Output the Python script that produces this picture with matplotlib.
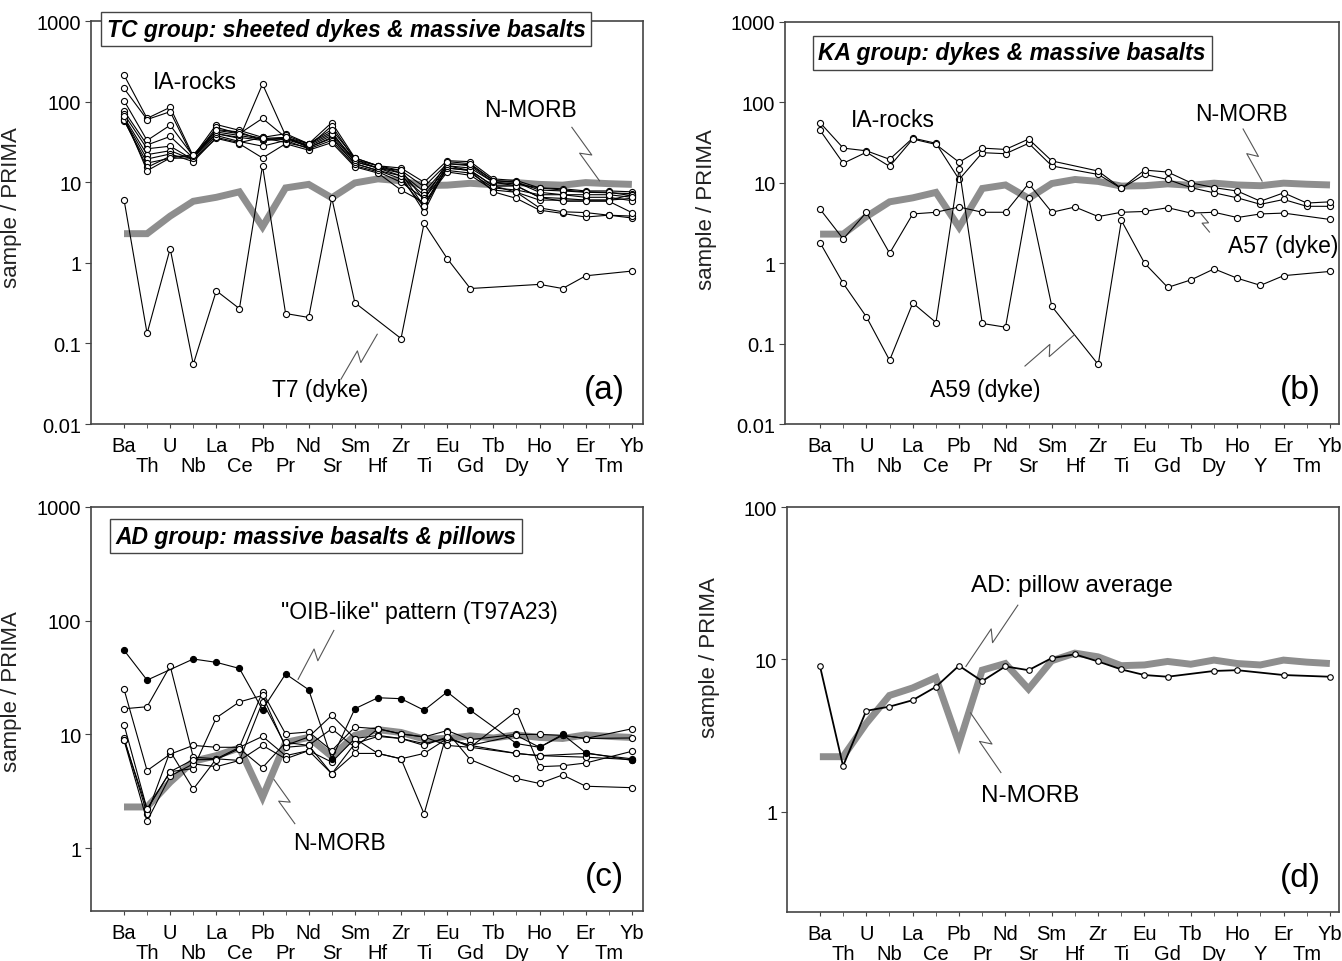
import numpy as np
import matplotlib
matplotlib.use("Agg")
import matplotlib.pyplot as plt

plt.rcParams['font.family'] = ['Liberation Sans', 'DejaVu Sans']

nan = np.nan

# element order on the x axis
elements = ['Ba', 'Th', 'U', 'Nb', 'La', 'Ce', 'Pb', 'Pr', 'Nd', 'Sr', 'Sm', 'Hf',
            'Zr', 'Ti', 'Eu', 'Gd', 'Tb', 'Dy', 'Ho', 'Y', 'Er', 'Tm', 'Yb']

# N-MORB reference pattern (thick grey line)
nmorb = [2.3, 2.3, 3.8, 5.8, 6.5, 7.6, 2.8, 8.5, 9.4, 6.4, 9.8, 11.0, 10.4, 9.1,
         9.2, 9.7, 9.3, 9.9, 9.4, 9.2, 9.9, 9.6, 9.4]

# (a) TC group: IA-rocks
tc_ia = [
    [214, 62, 85, 21, 52, 44, 36, 40, 30, 55, 20, 16, 15, 10.0, 18.5, 18.0, 11.0, 10.5, 8.5, 8.3, 7.8, 7.8, 7.6],
    [146, 60, 75, 20, 48, 40, 62, 36, 28, 50, 19, 15, 14, 8.8, 17.0, 16.5, 10.5, 10.0, 8.0, 7.8, 7.5, 7.4, 7.2],
    [103, 33, 51, 21, 40, 35, 165, 38, 30, 42, 18, 15, 13, 7.6, 16.0, 15.0, 10.0, 9.5, 8.5, 8.0, 7.6, 7.5, 6.8],
    [77, 29, 37, 20, 45, 42, 33, 36, 27, 35, 17, 14, 12, 6.9, 15.0, 14.0, 9.0, 9.0, 6.5, 6.3, 6.0, 6.0, 6.3],
    [70, 26, 28, 19, 38, 32, 28, 33, 26, 33, 16, 13.5, 10, 6.3, 14.0, 13.0, 8.5, 8.0, 7.0, 7.0, 6.5, 6.5, 5.9],
    [64, 22, 24.6, 19, 35, 30, 20, 30, 25, 31, 15.5, 13, 8, 5.6, 13.4, 12.2, 8.0, 7.5, 6.0, 6.0, 6.0, 6.0, 7.0],
    [61, 19.4, 22.4, 18, 36, 31, 36, 31, 27, 36, 17, 14, 11, 4.9, 15.0, 14.0, 7.6, 6.3, 4.5, 4.1, 3.7, 3.9, 3.6],
    [58, 17.3, 19.8, 20, 40, 36, 33, 34, 28, 38, 18, 15, 12, 4.3, 16.0, 14.0, 9.0, 7.5, 4.8, 4.3, 4.2, 3.9, 3.8],
    [60, 15.3, 21, 21, 42, 38, 34, 35, 29, 40, 19, 16, 13, 5.0, 17.0, 16.0, 10.0, 9.0, 6.5, 5.8, 5.8, 5.8, 4.2],
    [66, 13.9, 20, 22, 44, 40, 35, 36, 30, 45, 20, 16, 14, 6.0, 18.0, 17.0, 10.5, 10.0, 7.5, 7.0, 7.0, 7.0, 6.5],
]
tc_t7 = [6.1, 0.133, 1.5, 0.055, 0.45, 0.27, 16, 0.235, 0.21, 6.4, 0.32, nan, 0.115, 3.1,
         1.13, 0.48, nan, nan, 0.54, 0.48, 0.69, nan, 0.79]

# (b) KA group
ka_ia = [
    [56, 27, 25, 19.6, 36, 31, 11, 23.7, 23, 31, 16.2, nan, 12.7, 8.5, 12.7, 11, 8.7, 7.5, 6.5, 5.4, 6.2, 5.1, 5.1],
    [45, 17.5, 24, 16, 35, 30, 18, 27, 26, 35, 18.7, nan, 14, 8.5, 14.4, 13.6, 10, 8.7, 7.9, 5.9, 7.5, 5.6, 5.8],
]
ka_a57 = [4.7, 2.0, 4.3, 1.33, 4.1, 4.3, 5.0, 4.3, 4.3, 9.8, 4.3, 5.0, 3.8, 4.3, 4.4, 4.9,
          4.2, 4.3, 3.7, 4.1, 4.2, nan, 3.5]
ka_a59 = [1.8, 0.56, 0.215, 0.062, 0.32, 0.183, 15, 0.178, 0.16, 6.5, 0.29, nan, 0.055, 3.4,
          1.0, 0.5, 0.62, 0.85, 0.65, 0.53, 0.7, nan, 0.79]

# (c) AD group
ad_samples = [
    [25, 4.8, 6.7, 8.0, 7.7, 7.7, 23.6, 10.1, 10.5, 7.2, 11.6, 11.2, 10.1, 9.5, 10.8, 9.0, nan, 10.0, 10.0, 9.8, 9.2, nan, 11.2],
    [16.8, 17.5, 40, 6.3, 6.1, 5.9, 19.3, 8.0, 9.5, 14.7, 9.2, 9.8, 9.2, 8.3, 9.2, 8.0, nan, 6.8, 6.5, nan, 6.8, nan, 6.1],
    [12.2, 2.2, 4.7, 5.0, 14, 19.3, 22, 7.7, 8.0, 11.2, 7.7, 11.2, 10.1, 9.5, 8.0, 7.7, nan, 16, 5.2, 5.3, 5.6, nan, 7.1],
    [9.3, 2.0, 7.1, 3.3, 6.1, 7.7, 9.6, 6.5, 7.2, 5.7, 9.2, 6.8, 6.1, 6.8, 9.2, 8.0, nan, 9.8, 7.7, 9.8, 9.2, nan, 9.3],
    [8.9, 1.73, 4.3, 5.5, 5.2, 5.9, 8.0, 6.1, 7.2, 4.5, 6.8, 6.8, 6.1, 2.0, 10.5, 6.0, nan, 4.1, 3.7, 4.4, 3.5, nan, 3.4],
    [9.0, 2.2, 4.7, 6.0, 6.0, 7.5, 5.1, 8.5, 8.0, 4.5, 8.3, 9.6, 9.2, 8.0, 9.5, 7.7, nan, 6.8, 6.5, nan, 6.3, nan, 6.0],
]
ad_t97a23 = [55, 30, nan, 46, 43, 38, 16.5, 34, 24.7, 6.1, 16.8, 21, 20.6, 16.3, 23.6, 16.3,
             nan, 8.3, 7.7, 10, 6.9, nan, 5.9]

# (d) AD pillow average
ad_pillow = [9.1, 2.0, 4.6, 4.9, 5.4, 6.6, 9.1, 7.2, 9.0, 8.5, 10.2, 10.8, 9.7, 8.6, 7.9,
             7.7, nan, 8.4, 8.5, nan, 7.9, nan, 7.7]

xpos = np.arange(len(elements))

fig = plt.figure(figsize=(13.42, 9.62), dpi=100)

ax_a = fig.add_axes([0.0678, 0.5582, 0.4113, 0.4189])
ax_b = fig.add_axes([0.5850, 0.5582, 0.4128, 0.4179])
ax_c = fig.add_axes([0.0678, 0.0520, 0.4113, 0.4200])
ax_d = fig.add_axes([0.5864, 0.0509, 0.4113, 0.4210])

spine_col = '#444444'
ann_fs = 16.5


def setup(ax, ylim, yticks, xlim, label_xy):
    ax.set_yscale('log')
    ax.set_ylim(*ylim)
    ax.set_xlim(*xlim)
    ax.set_yticks(yticks)
    ax.set_yticklabels([('%g' % t) for t in yticks], fontsize=14.5)
    ax.yaxis.set_minor_locator(matplotlib.ticker.NullLocator())
    # two staggered rows of element names: even ones as major, odd ones as minor ticks
    ax.set_xticks(xpos[::2])
    ax.set_xticklabels(elements[::2], fontsize=14.5)
    ax.set_xticks(xpos[1::2], minor=True)
    ax.set_xticklabels(elements[1::2], minor=True, fontsize=14.5)
    ax.tick_params(axis='x', which='major', direction='out', length=3, pad=5.5, color=spine_col)
    ax.tick_params(axis='x', which='minor', direction='out', length=3, pad=20, color=spine_col)
    ax.tick_params(axis='y', direction='out', length=4, pad=3, color=spine_col)
    for s in ax.spines.values():
        s.set_color(spine_col)
        s.set_linewidth(1.2)
    ax.set_ylabel('sample / PRIMA', fontsize=16, color='#222222')
    ax.yaxis.set_label_coords(*label_xy)


def plot_series(ax, vals, filled=False, lw=0.8, ms=4.4):
    v = np.array(vals, dtype=float)
    ok = ~np.isnan(v)
    ax.plot(xpos[ok], v[ok], color='black', lw=lw, marker='o', ms=ms,
            mfc='black' if filled else 'white', mec='black', mew=0.8, zorder=3)


def plot_morb(ax):
    ax.plot(xpos, nmorb, color='#8e8e8e', lw=5, solid_joinstyle='miter',
            solid_capstyle='butt', zorder=2)


def zigzag(ax, start, end, w=5):
    # leader line with a lightning-style kink, drawn in pixel space
    p0 = ax.transData.transform(start)
    p1 = ax.transData.transform(end)
    d = p1 - p0
    n = np.array([-d[1], d[0]]) / np.hypot(*d)
    m1 = p0 + 0.56 * d + w * n
    m2 = p0 + 0.44 * d - w * n
    pts = ax.transData.inverted().transform(np.array([p0, m1, m2, p1]))
    ax.plot(pts[:, 0], pts[:, 1], color='#555555', lw=0.8, zorder=4)


def title_box(ax, text, x, y):
    ax.text(x, y, text, transform=ax.transAxes, ha='center', va='center',
            fontsize=16.5, fontweight='bold', fontstyle='italic', zorder=5,
            bbox=dict(boxstyle='square,pad=0.25', fc='white', ec=spine_col, lw=1.0),
            clip_on=False)


def panel_letter(ax, s):
    ax.text(0.93, 0.085, s, transform=ax.transAxes, fontsize=24, ha='center', va='center')


# ---- (a)
setup(ax_a, (0.01, 1000), [0.01, 0.1, 1, 10, 100, 1000], (-1.43, 22.48), (-0.125, 0.54))
plot_morb(ax_a)
for s in tc_ia:
    plot_series(ax_a, s)
plot_series(ax_a, tc_t7)
title_box(ax_a, 'TC group: sheeted dykes & massive basalts', 0.462, 0.98)
ax_a.text(3.07, 180, 'IA-rocks', fontsize=ann_fs, ha='center', va='center')
ax_a.text(17.6, 81, 'N-MORB', fontsize=ann_fs, ha='center', va='center')
zigzag(ax_a, (19.4, 48), (20.6, 10.4))
ax_a.text(8.49, 0.027, 'T7 (dyke)', fontsize=ann_fs, ha='center', va='center')
zigzag(ax_a, (9.4, 0.036), (10.97, 0.13))
panel_letter(ax_a, '(a)')

# ---- (b)
setup(ax_b, (0.01, 1000), [0.01, 0.1, 1, 10, 100, 1000], (-1.51, 22.39), (-0.123, 0.537))
plot_morb(ax_b)
for s in ka_ia:
    plot_series(ax_b, s)
plot_series(ax_b, ka_a57)
plot_series(ax_b, ka_a59)
title_box(ax_b, 'KA group: dykes & massive basalts', 0.41, 0.923)
ax_b.text(3.15, 61, 'IA-rocks', fontsize=ann_fs, ha='center', va='center')
ax_b.text(18.2, 72, 'N-MORB', fontsize=ann_fs, ha='center', va='center')
zigzag(ax_b, (18.25, 46.7), (19.07, 10.5))
ax_b.text(20.0, 1.64, 'A57 (dyke)', fontsize=ann_fs, ha='center', va='center')
zigzag(ax_b, (16.44, 4.1), (16.8, 2.44), w=3)
ax_b.text(7.12, 0.027, 'A59 (dyke)', fontsize=ann_fs, ha='center', va='center')
zigzag(ax_b, (8.84, 0.0526), (10.96, 0.128))
panel_letter(ax_b, '(b)')

# ---- (c)
setup(ax_c, (0.28, 1000), [1, 10, 100, 1000], (-1.43, 22.48), (-0.125, 0.545))
plot_morb(ax_c)
for s in ad_samples:
    plot_series(ax_c, s)
plot_series(ax_c, ad_t97a23, filled=True)
title_box(ax_c, 'AD group: massive basalts & pillows', 0.408, 0.928)
ax_c.text(12.8, 121, '"OIB-like" pattern (T97A23)', fontsize=ann_fs, ha='center', va='center')
zigzag(ax_c, (9.09, 82), (7.54, 30.5))
ax_c.text(9.35, 1.12, 'N-MORB', fontsize=ann_fs, ha='center', va='center')
zigzag(ax_c, (7.4, 1.64), (6.5, 4.0))
panel_letter(ax_c, '(c)')

# ---- (d)
setup(ax_d, (0.22, 100), [1, 10, 100], (-1.42, 22.39), (-0.121, 0.63))
plot_morb(ax_d)
plot_series(ax_d, ad_pillow, lw=1.3, ms=4)
ax_d.text(10.87, 30.7, 'AD: pillow average', fontsize=17.5, ha='center', va='center')
zigzag(ax_d, (8.54, 22.7), (6.3, 9.0))
ax_d.text(9.06, 1.28, 'N-MORB', fontsize=17.5, ha='center', va='center')
zigzag(ax_d, (7.81, 1.81), (6.5, 4.46))
panel_letter(ax_d, '(d)')

fig.savefig('out.png', dpi=100)
